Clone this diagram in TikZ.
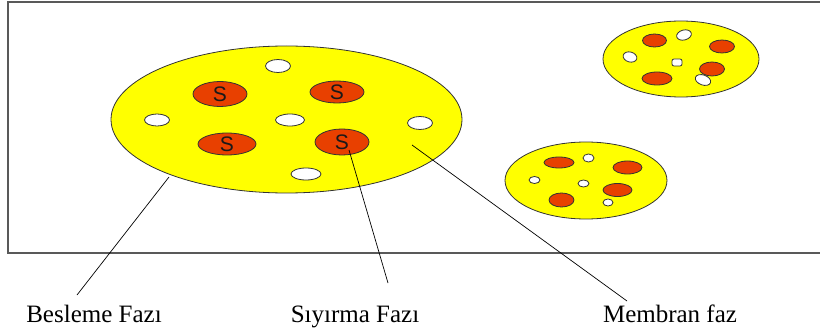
\documentclass[tikz,border=0pt]{standalone}
\usepackage{fontspec}
\newfontfamily\labelfont{Liberation Serif}
\newfontfamily\spotfont{Liberation Sans}
\usetikzlibrary{shapes.geometric}
\definecolor{phaseyellow}{RGB}{255,255,0}
\definecolor{stripred}{RGB}{232,64,0}

\begin{document}
\begin{tikzpicture}[x=1pt, y=-1pt,
    phase/.style={ellipse, draw=black!80, fill=phaseyellow, line width=0.8pt, inner sep=0pt},
    drop/.style={ellipse, draw=black!80, fill=stripred, line width=0.8pt, inner sep=0pt,
        text=black!90, font=\spotfont\fontsize{21}{21}\selectfont},
    pore/.style={ellipse, draw=black!80, fill=white, line width=0.8pt, inner sep=0pt},
    tag/.style={anchor=base, font=\labelfont\fontsize{25}{25}\selectfont}]
    \useasboundingbox (0,0) rectangle (820,334);

    % frame
    \draw[black!65, line width=1.3pt] (8,2) rectangle (830,253);

    % big emulsion globule
    \node[phase, minimum width=351, minimum height=147] (feed) at (286.5,119.5) {};
    \node[drop, minimum width=54, minimum height=25] (s1) at (220,94) {S};
    \node[drop, minimum width=54, minimum height=22] (s2) at (337,92) {S};
    \node[drop, minimum width=58, minimum height=22] (s3) at (227,144) {S};
    \node[drop, minimum width=54, minimum height=26] (s4) at (342,142) {S};
    \node[pore, minimum width=25, minimum height=13] (w1) at (278,66) {};
    \node[pore, minimum width=25, minimum height=12] (w2) at (157,120) {};
    \node[pore, minimum width=29, minimum height=12] (w3) at (290,120) {};
    \node[pore, minimum width=25, minimum height=13] (w4) at (420,123) {};
    \node[pore, minimum width=30, minimum height=12] (w5) at (306,174) {};

    % small globule, top right
    \node[phase, minimum width=156, minimum height=76] (upper) at (681,59) {};
    \node[drop, minimum width=24, minimum height=13] (u1) at (654.5,40.5) {};
    \node[drop, minimum width=25, minimum height=13] (u2) at (722,46.5) {};
    \node[drop, minimum width=25, minimum height=14] (u3) at (712,69) {};
    \node[drop, minimum width=30, minimum height=13] (u4) at (657,78.5) {};
    \node[pore, minimum width=15, minimum height=10, rotate=15] (uw1) at (684,35) {};
    \node[pore, minimum width=14, minimum height=10, rotate=-15] (uw2) at (630,57) {};
    \node[draw=black!80, fill=white, line width=0.8pt, rounded corners=2pt,
        minimum width=10, minimum height=7, inner sep=0pt] (uw3) at (677,62.5) {};
    \node[pore, minimum width=16, minimum height=10, rotate=-20] (uw4) at (703,80) {};

    % small globule, lower
    \node[phase, minimum width=162, minimum height=77] (lower) at (586,180.5) {};
    \node[drop, minimum width=30, minimum height=11] (l1) at (559,162.5) {};
    \node[drop, minimum width=29, minimum height=13] (l2) at (627.5,167.5) {};
    \node[drop, minimum width=29, minimum height=13] (l3) at (617.5,190) {};
    \node[drop, minimum width=25, minimum height=14] (l4) at (561.5,200) {};
    \node[pore, minimum width=11, minimum height=8] (lw1) at (588.5,158) {};
    \node[pore, minimum width=11, minimum height=7] (lw2) at (534.5,180) {};
    \node[pore, minimum width=11, minimum height=7] (lw3) at (583.5,183.5) {};
    \node[pore, minimum width=10, minimum height=7] (lw4) at (608,202.5) {};

    % labels
    \node[tag] (besleme) at (94,322) {Besleme Faz\i};
    \node[tag] (siyirma) at (355,322) {S\i y\i rma Faz\i};
    \node[tag] (membran) at (670,322) {Membran faz};

    \coordinate (bp) at (169,177);
    \coordinate (sp) at (349,150);
    \coordinate (mp) at (412,145);
    \coordinate (bq) at (77,295);
    \coordinate (sq) at (388,283);
    \coordinate (mq) at (627,301);
    \draw[line width=0.7pt] (bp) -- (bq);
    \draw[line width=0.7pt] (sp) -- (sq);
    \draw[line width=0.7pt] (mp) -- (mq);
\end{tikzpicture}
\end{document}
